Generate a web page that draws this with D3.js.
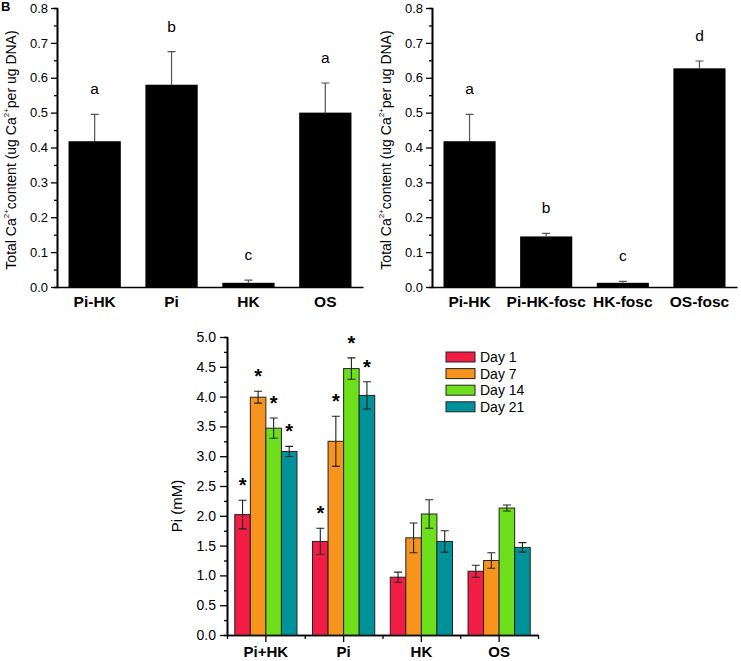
<!DOCTYPE html>
<html>
<head>
<meta charset="utf-8">
<script src="https://cdn.jsdelivr.net/npm/d3@7.9.0/dist/d3.min.js"></script>
<style>
  body { margin: 0; background: #fff; }
  svg { display: block; font-family: "Liberation Sans", Arial, sans-serif; }
</style>
</head>
<body>
<div id="chart"></div>
<script>
// Panel A: total Ca content
const catsA = ['Pi-HK', 'Pi', 'HK', 'OS'];
const valsA = [0.418, 0.580, 0.012, 0.500];
const errA = [0.077, 0.095, 0.008, 0.085];
const lettersA = ['a', 'b', 'c', 'a'];

// Panel B: with foscarnet
const catsB = ['Pi-HK', 'Pi-HK-fosc', 'HK-fosc', 'OS-fosc'];
const valsB = [0.418, 0.145, 0.012, 0.627];
const errB = [0.077, 0.009, 0.004, 0.021];
const lettersB = ['a', 'b', 'c', 'd'];

// Panel C: Pi over time
const groupsC = ['Pi+HK', 'Pi', 'HK', 'OS'];
const days = ['Day 1', 'Day 7', 'Day 14', 'Day 21'];
const dayColors = ['#f21d45', '#f7941e', '#6ee01b', '#00929b'];
const valsC = [
  [2.02, 3.99, 3.47, 3.08],
  [1.57, 3.25, 4.47, 4.02],
  [0.97, 1.63, 2.03, 1.57],
  [1.07, 1.25, 2.13, 1.47]
];
const errC = [
  [0.24, 0.10, 0.17, 0.085],
  [0.22, 0.42, 0.18, 0.23],
  [0.085, 0.25, 0.24, 0.18],
  [0.10, 0.13, 0.05, 0.08]
];
const starC = [
  [true, true, true, true],
  [true, true, true, true],
  [false, false, false, false],
  [false, false, false, false]
];

const svg = d3.select('#chart').append('svg')
  .attr('width', 741).attr('height', 661);

function caLabel(g, x, y) {
  const t = g.append('text')
    .attr('transform', `translate(${x},${y}) rotate(-90)`)
    .attr('text-anchor', 'middle')
    .attr('font-size', 14);
  t.append('tspan').text('Total Ca');
  t.append('tspan').attr('font-size', 8).attr('dy', -7).text('2+');
  t.append('tspan').attr('dy', 7).text('content (ug Ca');
  t.append('tspan').attr('font-size', 8).attr('dy', -7).text('2+');
  t.append('tspan').attr('dy', 7).text('per ug DNA)');
}

function styleAxis(g) {
  g.selectAll('.domain').attr('stroke', '#000').attr('stroke-width', 1.6);
  g.selectAll('.tick line').attr('stroke', '#000').attr('stroke-width', 1.3);
}

// Ca panels (A and B)
function renderCaPanel(cats, vals, errs, letters, x0, x1, labelX) {
  const g = svg.append('g');
  const x = d3.scaleBand().domain(cats).range([x0, x1])
    .paddingInner(0.32).paddingOuter(0.15);
  const y = d3.scaleLinear().domain([0, 0.8]).range([287, 8]);

  // minor ticks
  g.append('g').attr('transform', `translate(${x0},0)`)
    .call(d3.axisLeft(y).tickValues(d3.range(0.05, 0.8, 0.1)).tickSize(3).tickFormat(''))
    .call(styleAxis);
  g.append('g').attr('transform', `translate(${x0},0)`)
    .call(d3.axisLeft(y).tickValues(d3.range(0, 0.81, 0.1)).tickSize(6).tickSizeOuter(0)
      .tickFormat(d3.format('.1f')))
    .call(styleAxis)
    .call(a => a.selectAll('text').attr('font-size', 13).attr('fill', '#000').attr('x', -9));

  const bx = g.append('g').attr('transform', `translate(0,287)`)
    .call(d3.axisBottom(x).tickSize(0).tickSizeOuter(0))
    .call(styleAxis);
  bx.selectAll('text').attr('font-size', 15.5).attr('font-weight', 'bold')
    .attr('fill', '#000').attr('dy', 0).attr('y', 20);

  const data = cats.map((c, i) => ({ c, v: vals[i], e: errs[i], l: letters[i] }));
  g.selectAll('.eb').data(data).join('path')
    .attr('stroke', '#555').attr('stroke-width', 1.2).attr('fill', 'none')
    .attr('d', d => {
      const cx = x(d.c) + x.bandwidth() / 2;
      return `M${cx},${y(d.v)}V${y(d.v + d.e)}M${cx - 4},${y(d.v + d.e)}H${cx + 4}`;
    });
  g.selectAll('.bar').data(data).join('rect')
    .attr('x', d => x(d.c)).attr('width', x.bandwidth())
    .attr('y', d => y(d.v)).attr('height', d => y(0) - y(d.v))
    .attr('fill', '#000');
  g.selectAll('.let').data(data).join('text')
    .attr('x', d => x(d.c) + x.bandwidth() / 2)
    .attr('y', d => y(d.v + d.e) - 20)
    .attr('text-anchor', 'middle').attr('font-size', 15.5)
    .text(d => d.l);

  caLabel(g, labelX, 150);
}

renderCaPanel(catsA, valsA, errA, lettersA, 57, 363, 16);
renderCaPanel(catsB, valsB, errB, lettersB, 432, 737, 391);

svg.append('text').attr('x', 1).attr('y', 11)
  .attr('font-size', 13).attr('font-weight', 'bold').text('B');

// Panel C
const gC = svg.append('g');
const xC = d3.scaleBand().domain(groupsC).range([227, 538])
  .paddingInner(0.2).paddingOuter(0.1);
const xOuter = d3.scaleBand().domain(groupsC).range([227, 538]);
const xIn = d3.scaleBand().domain(days).range([0, xC.bandwidth()]);
const yC = d3.scaleLinear().domain([0, 5]).range([635, 337]);

gC.append('g').attr('transform', 'translate(227,0)')
  .call(d3.axisLeft(yC).tickValues(d3.range(0.25, 5, 0.5)).tickSize(3).tickFormat(''))
  .call(styleAxis);
gC.append('g').attr('transform', 'translate(227,0)')
  .call(d3.axisLeft(yC).tickValues(d3.range(0, 5.01, 0.5)).tickSize(7).tickSizeOuter(0)
    .tickFormat(d3.format('.1f')))
  .call(styleAxis)
  .call(a => a.selectAll('text').attr('font-size', 14).attr('fill', '#000').attr('x', -11));

// minor ticks at group boundaries
gC.append('g').attr('transform', 'translate(0,635)')
  .call(d3.axisBottom(d3.scaleLinear().domain([0, 4]).range([227, 538]))
    .tickValues([0, 1, 2, 3, 4]).tickSize(4).tickFormat('').tickSizeOuter(0))
  .call(styleAxis);
gC.append('g').attr('transform', 'translate(0,635)')
  .call(d3.axisBottom(xOuter).tickSize(7).tickSizeOuter(0))
  .call(styleAxis)
  .call(a => a.selectAll('text').attr('font-size', 15).attr('font-weight', 'bold')
    .attr('fill', '#000').attr('dy', 0).attr('y', 22));

const cells = [];
groupsC.forEach((grp, gi) => days.forEach((d, di) => {
  cells.push({ grp, d, di, v: valsC[gi][di], e: errC[gi][di], star: starC[gi][di] });
}));

gC.selectAll('.barC').data(cells).join('rect')
  .attr('x', c => xC(c.grp) + xIn(c.d)).attr('width', xIn.bandwidth())
  .attr('y', c => yC(c.v)).attr('height', c => yC(0) - yC(c.v))
  .attr('fill', c => dayColors[c.di]).attr('stroke', '#222').attr('stroke-width', 1);

gC.selectAll('.ebC').data(cells).join('path')
  .attr('stroke', '#222').attr('stroke-width', 1.1).attr('fill', 'none')
  .attr('d', c => {
    const cx = xC(c.grp) + xIn(c.d) + xIn.bandwidth() / 2;
    const t = yC(c.v + c.e), b = yC(c.v - c.e);
    return `M${cx},${t}V${b}M${cx - 4},${t}H${cx + 4}M${cx - 4},${b}H${cx + 4}`;
  });

gC.selectAll('.star').data(cells.filter(c => c.star)).join('text')
  .attr('x', c => xC(c.grp) + xIn(c.d) + xIn.bandwidth() / 2)
  .attr('y', c => yC(c.v + c.e) - 8)
  .attr('text-anchor', 'middle').attr('font-size', 20).attr('font-weight', 'bold')
  .text('*');

gC.append('text')
  .attr('transform', 'translate(182,506) rotate(-90)')
  .attr('text-anchor', 'middle').attr('font-size', 15).text('Pi (mM)');

// legend
const leg = gC.append('g').attr('transform', 'translate(446,352)');
const li = leg.selectAll('g').data(days).join('g')
  .attr('transform', (d, i) => `translate(0,${i * 16.6})`);
li.append('rect').attr('width', 29).attr('height', 10)
  .attr('fill', (d, i) => dayColors[i]).attr('stroke', '#222').attr('stroke-width', 1);
li.append('text').attr('x', 34).attr('y', 10).attr('font-size', 14).text(d => d);
</script>
</body>
</html>
